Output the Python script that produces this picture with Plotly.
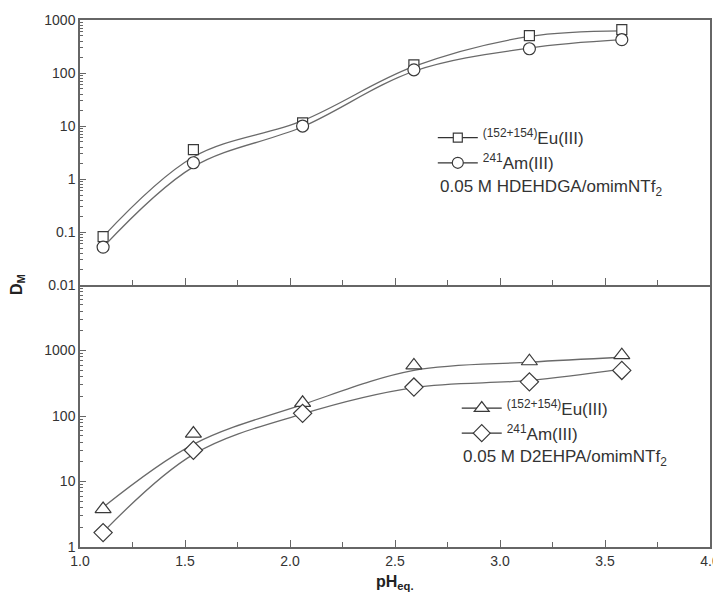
import plotly.graph_objects as go

# ---- data ----
ph = [1.11, 1.54, 2.06, 2.59, 3.14, 3.58]

# top panel: 0.05 M HDEHDGA/omimNTf2
eu_top = [0.082, 3.6, 11.5, 143, 506, 656]
am_top = [0.052, 2.03, 10.0, 115, 287, 425]
eu_top_fit = [0.082, 2.6, 12.6, 133, 490, 626]
am_top_fit = [0.052, 1.7, 9.7, 108, 296, 425]

# bottom panel: 0.05 M D2EHPA/omimNTf2
eu_bot = [3.8, 54, 159, 592, 687, 849]
am_bot = [1.66, 30, 110, 277, 333, 497]
eu_bot_fit = [4.05, 37, 150, 497, 664, 790]
am_bot_fit = [1.69, 26, 108, 272, 350, 520]

top_ticks = [0.01, 0.1, 1, 10, 100, 1000]
top_ticktext = ["0.01", "0.1", "1", "10", "100", "1000"]
bot_ticks = [1, 10, 100, 1000]
bot_ticktext = ["1", "10", "100", "1000"]
x_ticks = [1.0, 1.5, 2.0, 2.5, 3.0, 3.5, 4.0]

eu_name = "<sup>(152+154)</sup>Eu(III)"
am_name = "<sup>241</sup>Am(III)"

LINE = "#6a6a6a"
MK = "#3a3a3a"
FONT = "Liberation Sans, Arial, sans-serif"

fig = go.Figure()

def add_pair(y_pts, y_fit, name, symbol, size, xa, ya, legend):
    fig.add_trace(go.Scatter(x=ph, y=y_fit, mode="lines", line=dict(color=LINE, width=1.3, shape="spline", smoothing=1.0),
                             xaxis=xa, yaxis=ya, showlegend=False, hoverinfo="skip"))
    fig.add_trace(go.Scatter(x=ph, y=y_pts, mode="markers", name=name,
                             marker=dict(symbol=symbol, size=size, color="white", line=dict(color=MK, width=1.2)),
                             xaxis=xa, yaxis=ya, showlegend=False))
    # legend entry (line + marker)
    fig.add_trace(go.Scatter(x=[None], y=[None], mode="lines+markers", name=name,
                             line=dict(color="#333", width=1.2),
                             marker=dict(symbol=symbol, size=size - 1, color="white", line=dict(color=MK, width=1.2)),
                             xaxis=xa, yaxis=ya, legend=legend, showlegend=True))

add_pair(eu_top, eu_top_fit, eu_name, "square", 10, "x", "y", "legend")
add_pair(am_top, am_top_fit, am_name, "circle", 12, "x", "y", "legend")
add_pair(eu_bot, eu_bot_fit, eu_name, "triangle-up", 14, "x2", "y2", "legend2")
add_pair(am_bot, am_bot_fit, am_name, "diamond", 14, "x2", "y2", "legend2")

def axis_common(mirror=True):
    return dict(showline=True, linecolor="#666", linewidth=1.5, mirror=mirror, automargin=False,
                showgrid=False, zeroline=False, ticks="inside", tickcolor="#666",
                ticklabeloverflow="allow",
                tickfont=dict(family=FONT, size=14, color="#333"))

# page body adds an 8px margin; size the figure so no scrollbar appears and
# the plot area lands where the reference has it
fig.update_layout(
    width=713, height=585,
    paper_bgcolor="white", plot_bgcolor="white",
    margin=dict(l=72, r=11, t=12, b=46),
    font=dict(family=FONT, color="#333"),
    xaxis=dict(**axis_common(), domain=[0, 1], range=[1.0, 4.0], anchor="y",
               tickvals=x_ticks, showticklabels=False, ticklen=7,
               minor=dict(ticks="inside", dtick=0.25, ticklen=5, tickcolor="#666")),
    yaxis=dict(**axis_common(), domain=[0.497, 1], type="log", range=[-2, 3], anchor="x",
               tickvals=top_ticks, ticktext=top_ticktext, ticklen=6,
               minor=dict(ticks="inside", dtick="D1", ticklen=3, tickcolor="#666")),
    xaxis2=dict(**axis_common(False), domain=[0, 1], range=[1.0, 4.0], anchor="y2",
                tickvals=x_ticks, tickformat=".1f", ticklen=7,
                minor=dict(ticks="inside", dtick=0.25, ticklen=5, tickcolor="#666")),
    yaxis2=dict(**axis_common(), domain=[0, 0.497], type="log", range=[0, 4], anchor="x2",
                tickvals=bot_ticks, ticktext=bot_ticktext, ticklen=6,
                minor=dict(ticks="inside", dtick="D1", ticklen=3, tickcolor="#666")),
    legend=dict(x=0.56, y=0.81, xanchor="left", yanchor="top", bgcolor="rgba(0,0,0,0)",
                font=dict(family=FONT, size=17, color="#333"), tracegroupgap=0, itemwidth=40),
    legend2=dict(x=0.598, y=0.297, xanchor="left", yanchor="top", bgcolor="rgba(0,0,0,0)",
                 font=dict(family=FONT, size=17, color="#333"), tracegroupgap=0, itemwidth=40),
)

fig.add_annotation(text="0.05 M HDEHDGA/omimNTf<sub>2</sub>", xref="paper", yref="paper",
                   x=0.569, y=0.682, xanchor="left", yanchor="middle", showarrow=False,
                   font=dict(family=FONT, size=17, color="#333"))
fig.add_annotation(text="0.05 M D2EHPA/omimNTf<sub>2</sub>", xref="paper", yref="paper",
                   x=0.604, y=0.169, xanchor="left", yanchor="middle", showarrow=False,
                   font=dict(family=FONT, size=17, color="#333"))
fig.add_annotation(text="<b>D<sub>M</sub></b>", xref="paper", yref="paper",
                   x=-0.1, y=0.497, xanchor="center", yanchor="middle", textangle=-90, showarrow=False,
                   font=dict(family=FONT, size=16, color="#222"))
fig.add_annotation(text="<b>pH<sub>eq.</sub></b>", xref="paper", yref="paper",
                   x=0.5, y=-0.068, xanchor="center", yanchor="middle", showarrow=False,
                   font=dict(family=FONT, size=16, color="#222"))

fig.write_html("out.html")
